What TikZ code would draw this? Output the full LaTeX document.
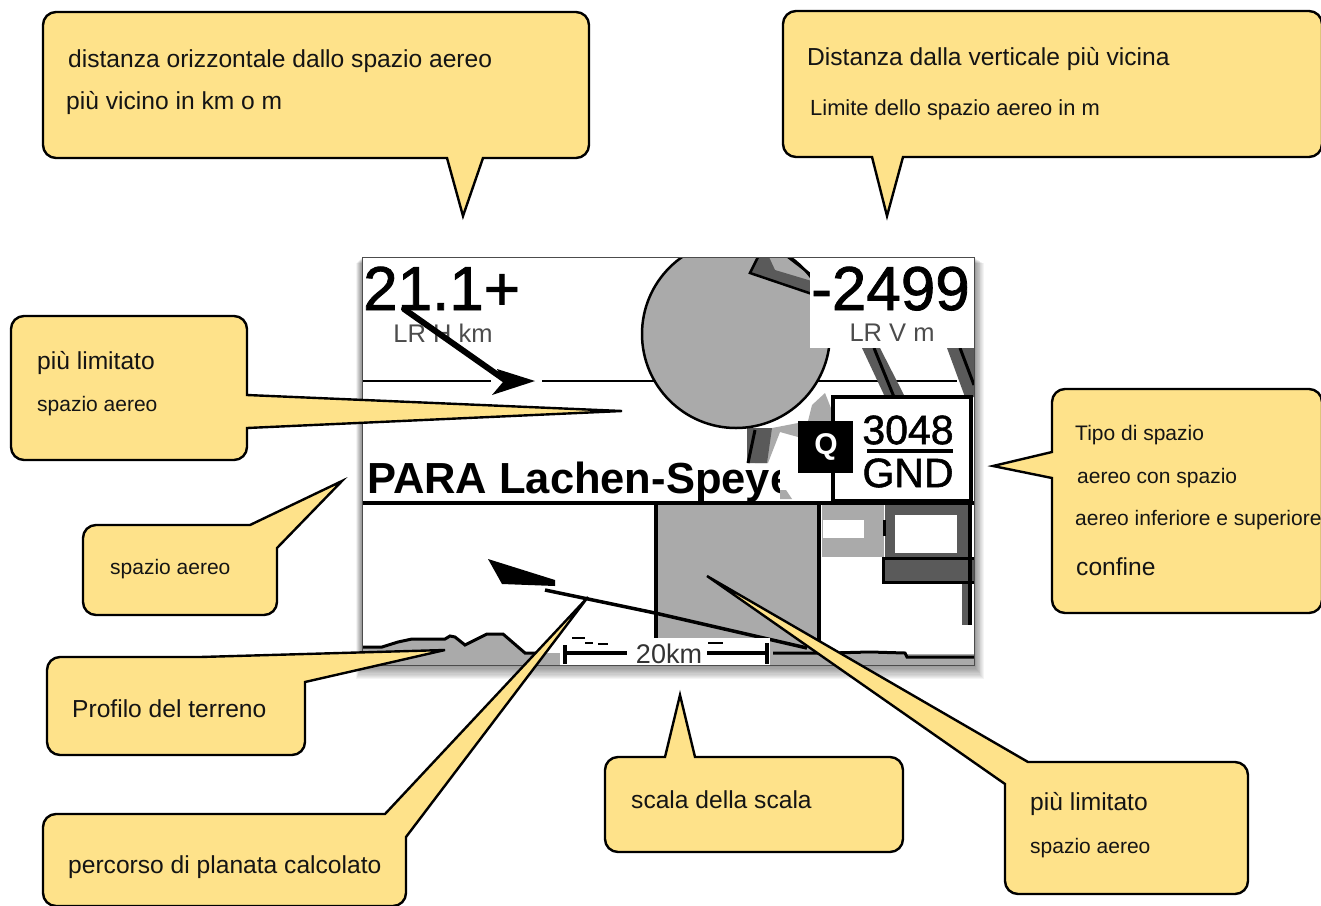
\documentclass[tikz,border=0pt]{standalone}
\usepackage{fontspec}
\setmainfont{Liberation Sans}
\newfontfamily\pixelfont[FakeBold=1.3]{Liberation Sans}
\usepackage{xcolor}
\definecolor{calloutfill}{RGB}{254,226,138}
\definecolor{mapgray}{RGB}{170,170,170}
\definecolor{roadgray}{RGB}{90,90,90}
\tikzset{
  callout/.style={draw=black,line width=2.4pt,fill=calloutfill,line join=miter},
  round/.style={rounded corners=13pt},
  txt/.style={anchor=base west,inner sep=0pt,text=black!92},
  txtbig/.style={txt,font=\fontsize{24.6}{28}\selectfont},
  txtmid/.style={txt,font=\fontsize{21.9}{25}\selectfont},
  txtsmall/.style={txt,font=\fontsize{21}{23}\selectfont},
  screentxt/.style={inner sep=0pt,text=black},
}
\begin{document}
\begin{tikzpicture}[x=1pt,y=-1pt]
  \useasboundingbox (0,0) rectangle (1321,905);

  % screen with its shadow
  \foreach \s in {1,2,...,12}
    \fill[black,opacity=0.045] (362-\s/2,257+\s/2) rectangle (974+\s*0.8,665+\s*1.2);
  \fill[white] (362,257) rectangle (974,665);

  \begin{scope}
    \clip (362,257) rectangle (974,665);
    % upper map
    \draw[line width=2.5pt] (362,381) -- (491,381);
    \draw[line width=2.5pt] (542,381) -- (957,381);
    \fill[mapgray] (812,405) -- (825,393) -- (836,421) -- (808,421) -- cycle;
    \fill[mapgray] (772,428) -- (798,423) -- (798,437) -- (780,432) -- (768,463) -- (755,463) -- cycle;
    \fill[roadgray] (747,428) -- (772,428) -- (767,463) -- (747,463) -- cycle;
    \draw[line width=3pt] (755,430) -- (748,463);
    \fill[roadgray] (862,348) -- (880,348) -- (905,397) -- (885,397) -- cycle;
    \draw[line width=3pt] (874,348) -- (894,397);
    \fill[roadgray] (947,348) -- (974,348) -- (974,397) -- (965,397) -- cycle;
    \draw[line width=3pt] (960,348) -- (974,385);
    \filldraw[fill=mapgray,line width=2.5pt] (736,334) circle (94);
    \fill[roadgray] (757,257) -- (769,257) -- (775,270) -- (815,282) -- (815,295) -- (750,273) -- cycle;
    \draw[line width=2.5pt] (758,257) -- (750,273) -- (812,294);
    \draw[line width=2.5pt] (788,257) -- (810,274);
    \fill[white] (810,257) rectangle (974,348);
    % lower map
    \fill[mapgray] (655,504) rectangle (818,665);
    \fill[mapgray] (822,504) rectangle (884,557);
    \fill[white] (823,520) rectangle (864,538);
    \fill[roadgray] (885,504) rectangle (968,557);
    \fill[white] (895,515) rectangle (957,553);
    \fill[roadgray] (962,582) rectangle (968,625);
    \draw[line width=3pt] (884,520) -- (884,536);
    \filldraw[fill=roadgray,line width=3pt] (974,558) -- (883,558) -- (883,582) -- (974,582);
    \draw[line width=4.5pt] (970,504) -- (970,625);
    \draw[line width=4pt] (656,504) -- (656,640);
    \draw[line width=4pt] (819,504) -- (819,650);
    % terrain profile
    \fill[mapgray] (362,665) -- (362,647) -- (382,647) -- (398,642) -- (412,639) -- (445,639) -- (450,636) -- (455,637) -- (465,645) -- (487,634) -- (503,634) -- (525,653) -- (560,653) -- (560,665) -- cycle;
    \draw[line width=3pt] (362,647) -- (382,647) -- (398,642) -- (412,639) -- (445,639) -- (450,636) -- (455,637) -- (465,645) -- (487,634) -- (503,634) -- (525,653) -- (540,653);
    \fill[mapgray] (770,654) -- (974,654) -- (974,665) -- (770,665) -- cycle;
    \draw[line width=3pt] (773,653) -- (830,653) -- (870,652) -- (905,653) -- (907,657) -- (974,657);
    % glider and glide path
    \fill (488,559) -- (555,580) -- (555,586) -- (502,584) -- cycle;
    \draw[line width=3.5pt] (545,590) -- (655,613) -- (807,648);
    % scale
    \fill[white] (560,638) rectangle (770,665);
    \draw[line width=4pt] (565,645) -- (565,664);
    \draw[line width=4pt] (565,653) -- (627,653);
    \draw[line width=4pt] (707,653) -- (767,653);
    \draw[line width=4pt] (767,643) -- (767,664);
    \draw[line width=2.5pt] (572,638) -- (585,638) (585,643) -- (593,643) (598,644) -- (608,644) (708,643) -- (723,643);
    \node[screentxt,font=\fontsize{27}{27}\selectfont,text=black!80] (scalelbl) at (669,654) {20km};
    % airspace name
    \node[screentxt,anchor=base west,font=\fontsize{43.5}{44}\bfseries\selectfont] (nameair) at (367,493) {PARA Lachen-Speye};
    \fill[white] (780,462) rectangle (833,500);
    \fill[mapgray] (780,490) -- (786,490) -- (792,499) -- (780,499) -- cycle;
    \draw[line width=4pt] (362,503) -- (974,503);
    % readouts
    \node[screentxt,anchor=base west,font=\fontsize{62}{62}\pixelfont] (disthor) at (363,310) {21.1+};
    \node[screentxt,font=\fontsize{25.5}{26}\selectfont,text=black!70] (disthorlbl) at (443,333) {LR H km};
    \node[screentxt,anchor=base east,font=\fontsize{62}{62}\pixelfont] (distver) at (970,310) {-2499};
    \node[screentxt,font=\fontsize{25.5}{26}\selectfont,text=black!70] (distverlbl) at (892,333) {LR V m};
    \draw[black,line width=6pt,line cap=round] (404,309) -- (505,380);
    \fill (535,381) -- (497,369) -- (503,382) -- (492,395) -- cycle;
    % limits box
    \filldraw[fill=white,line width=4pt] (833,397) rectangle (971,501);
    \fill (798,421) rectangle (853,473);
    \node[screentxt,text=white,font=\fontsize{30}{30}\bfseries\selectfont] (qtype) at (826,447) {Q};
    \node[screentxt,font=\fontsize{41}{41}\pixelfont] (upperlim) at (908,430) {3048};
    \draw[line width=3.5pt] (867,451) -- (953,451);
    \node[screentxt,font=\fontsize{41}{41}\pixelfont] (lowerlim) at (908,473) {GND};
  \end{scope}
  \draw[black!70,line width=1pt] (362,257) rectangle (974,665);

  % callouts
  \coordinate (tipH) at (463,216);
  \coordinate (tipV) at (887,216);
  \coordinate (tipA) at (622,411);
  \coordinate (tipB) at (342,481);
  \coordinate (tipC) at (445,650);
  \coordinate (tipD) at (588,597);
  \coordinate (tipE) at (680,695);
  \coordinate (tipF) at (707,576);
  \coordinate (tipG) at (993,466);

  \draw[callout] (tipH) -- (483,158) [round] -- (589,158) -- (589,12) -- (43,12) -- (43,158) [sharp corners] -- (447,158) -- cycle;
  \draw[callout] (tipV) -- (903,157) [round] -- (1322,157) -- (1322,11) -- (783,11) -- (783,157) [sharp corners] -- (872,157) -- cycle;
  \draw[callout] (tipA) -- (247,428) [round] -- (247,460) -- (11,460) -- (11,316) -- (247,316) [sharp corners] -- (247,395) -- cycle;
  \draw[callout] (tipB) -- (277,548) [round] -- (277,615) -- (83,615) -- (83,525) [sharp corners] -- (250,525) -- cycle;
  \draw[callout] (tipC) -- (305,682) [round] -- (305,755) -- (47,755) -- (47,657) [sharp corners] -- (200,657) -- cycle;
  \draw[callout] (tipD) -- (406,837) [round] -- (406,906) -- (43,906) -- (43,814) [sharp corners] -- (385,814) -- cycle;
  \draw[callout] (tipE) -- (695,757) [round] -- (903,757) -- (903,852) -- (605,852) -- (605,757) [sharp corners] -- (665,757) -- cycle;
  \draw[callout] (tipF) -- (1028,762) [round] -- (1248,762) -- (1248,894) -- (1005,894) [sharp corners] -- (1005,784) -- cycle;
  \draw[callout] (tipG) -- (1052,478) [round] -- (1052,613) -- (1322,613) -- (1322,389) -- (1052,389) [sharp corners] -- (1052,452) -- cycle;

  \node[txtbig] (horA) at (68,67) {distanza orizzontale dallo spazio aereo};
  \node[txtbig] (horB) at (66,109) {più vicino in km o m};
  \node[txtbig] (verA) at (807,65) {Distanza dalla verticale più vicina};
  \node[txtmid] (verB) at (810,115) {Limite dello spazio aereo in m};
  \node[txtbig] (limA) at (37,369) {più limitato};
  \node[txtsmall] (limB) at (37,411) {spazio aereo};
  \node[txtsmall] (air) at (110,574) {spazio aereo};
  \node[txtbig] (terrain) at (72,717) {Profilo del terreno};
  \node[txtbig] (glide) at (68,873) {percorso di planata calcolato};
  \node[txtbig] (scalenote) at (631,808) {scala della scala};
  \node[txtbig] (nearA) at (1030,810) {più limitato};
  \node[txtsmall] (nearB) at (1030,853) {spazio aereo};
  \node[txtsmall] (typeA) at (1075,440) {Tipo di spazio};
  \node[txtsmall] (typeB) at (1077,483) {aereo con spazio};
  \node[txtsmall] (typeC) at (1075,525) {aereo inferiore e superiore};
  \node[txtbig] (typeD) at (1076,575) {confine};
\end{tikzpicture}
\end{document}
